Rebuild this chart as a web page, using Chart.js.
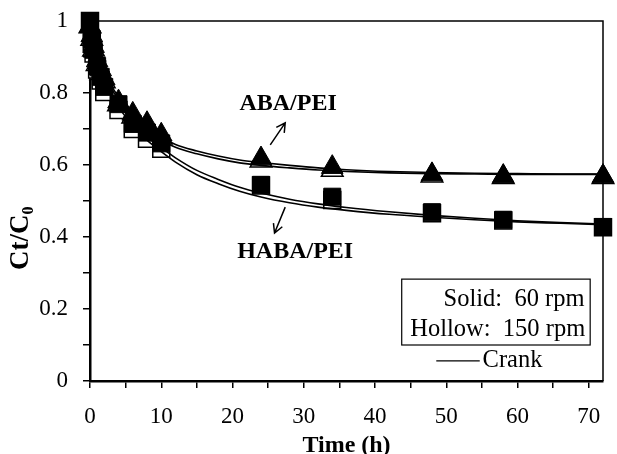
<!DOCTYPE html>
<html lang="en">
<head>
<meta charset="UTF-8" />
<title>Ct/C0 vs time</title>
<script src="https://cdn.jsdelivr.net/npm/chart.js"></script>
<style>
  html, body { margin: 0; padding: 0; background: #fff; }
  canvas { display: block; }
</style>
</head>
<body>
<canvas id="myChart" width="617" height="454"></canvas>
<script>
// sampling times (h) of the measured points
const sampleTimes = [0, 0.25, 0.5, 1, 1.5, 2, 4, 6, 8, 10, 24, 34, 48, 58, 72];

// ABA/PEI (triangles), solid = 60 rpm, hollow = 150 rpm
const abaSolid  = [0.985, 0.96, 0.93, 0.89, 0.865, 0.84, 0.776, 0.742, 0.716, 0.684, 0.618, 0.594, 0.574, 0.569, 0.569];
const abaHollow = [0.985, 0.95, 0.92, 0.88, 0.855, 0.832, 0.768, 0.734, 0.708, 0.676, 0.612, 0.586, 0.570, 0.566, 0.566];

// HABA/PEI (squares)
const habaSolid  = [1.00, 0.95, 0.92, 0.875, 0.845, 0.817, 0.769, 0.714, 0.690, 0.660, 0.545, 0.512, 0.469, 0.448, 0.428];
const habaHollow = [1.00, 0.94, 0.91, 0.865, 0.835, 0.803, 0.753, 0.700, 0.673, 0.645, 0.543, 0.503, 0.466, 0.446, 0.427];

// Crank model curves
const crankTimes = [0, 0.5, 1, 2, 3, 4, 6, 8, 10, 12, 15, 18, 21, 24, 28, 32, 36, 42, 48, 54, 60, 66, 72];
const crankAbaA  = [1.00, 0.930, 0.900, 0.855, 0.820, 0.790, 0.745, 0.710, 0.678, 0.657, 0.639, 0.625, 0.614, 0.607, 0.599, 0.592, 0.587, 0.582, 0.579, 0.577, 0.576, 0.575, 0.575];
const crankAbaB  = [1.00, 0.925, 0.894, 0.848, 0.812, 0.782, 0.737, 0.702, 0.670, 0.649, 0.631, 0.617, 0.606, 0.599, 0.592, 0.586, 0.582, 0.578, 0.576, 0.575, 0.574, 0.574, 0.574];
const crankHabaA = [1.00, 0.920, 0.890, 0.840, 0.800, 0.770, 0.720, 0.680, 0.648, 0.620, 0.585, 0.560, 0.538, 0.522, 0.505, 0.492, 0.482, 0.470, 0.460, 0.452, 0.445, 0.440, 0.436];
const crankHabaB = [1.00, 0.910, 0.880, 0.830, 0.790, 0.760, 0.710, 0.669, 0.637, 0.608, 0.573, 0.548, 0.527, 0.511, 0.495, 0.483, 0.474, 0.463, 0.455, 0.448, 0.442, 0.438, 0.434];

// axis ticks
const xTickStep = 5, xLabelEvery = 10;
const yTickStep = 0.1;

const serif = '"Liberation Serif", "Times New Roman", serif';

function zip(xs, ys) {
  return xs.map((x, i) => ({ x: x, y: ys[i] }));
}

function markers(data, style, filled) {
  return {
    data: data,
    showLine: false,
    pointStyle: style,
    pointRadius: style === 'triangle' ? 12.5 : 12,
    pointBackgroundColor: filled ? '#000' : '#fff',
    pointBorderColor: '#000',
    pointBorderWidth: filled ? 1 : 1.5,
    clip: false
  };
}

function curve(data) {
  return {
    data: data,
    showLine: true,
    borderColor: '#000',
    borderWidth: 1.6,
    pointRadius: 0,
    cubicInterpolationMode: 'monotone',
    clip: false
  };
}

// notes and legend, placed in data units
const notes = {
  aba:  { text: 'ABA/PEI',  x: 27.8, y: 0.769, from: [25.3, 0.656], to: [27.4, 0.717] },
  haba: { text: 'HABA/PEI', x: 28.8, y: 0.358, from: [27.4, 0.483], to: [25.9, 0.411] }
};

const extras = {
  id: 'extras',
  afterDraw(chart) {
    const ctx = chart.ctx;
    const a = chart.chartArea;
    const xs = chart.scales.x, ys = chart.scales.y;
    const px = v => xs.getPixelForValue(v);
    const py = v => ys.getPixelForValue(v);
    ctx.save();
    ctx.strokeStyle = '#000';
    ctx.fillStyle = '#000';

    // top and right frame
    ctx.lineWidth = 1.5;
    ctx.beginPath();
    ctx.moveTo(a.left, a.top);
    ctx.lineTo(a.right, a.top);
    ctx.lineTo(a.right, a.bottom);
    ctx.stroke();

    // labels with arrows
    ctx.font = 'bold 24px ' + serif;
    ctx.textAlign = 'center';
    ctx.textBaseline = 'middle';
    Object.values(notes).forEach(n => {
      ctx.fillText(n.text, px(n.x), py(n.y));
      const x0 = px(n.from[0]), y0 = py(n.from[1]);
      const x1 = px(n.to[0]), y1 = py(n.to[1]);
      ctx.lineWidth = 1.5;
      ctx.beginPath();
      ctx.moveTo(x0, y0);
      ctx.lineTo(x1, y1);
      const ang = Math.atan2(y1 - y0, x1 - x0);
      const h = 10;
      ctx.moveTo(x1 - h * Math.cos(ang - 0.5), y1 - h * Math.sin(ang - 0.5));
      ctx.lineTo(x1, y1);
      ctx.lineTo(x1 - h * Math.cos(ang + 0.5), y1 - h * Math.sin(ang + 0.5));
      ctx.stroke();
    });

    // legend box
    ctx.lineWidth = 1.2;
    ctx.strokeRect(px(43.75), py(0.283), px(70.2) - px(43.75), py(0.10) - py(0.283));
    ctx.font = '24.5px ' + serif;
    ctx.textAlign = 'right';
    ctx.fillText('Solid:  60 rpm', px(69.4), py(0.225));
    ctx.fillText('Hollow:  150 rpm', px(69.5), py(0.142));
    ctx.beginPath();
    ctx.moveTo(px(48.6), py(0.056));
    ctx.lineTo(px(54.7), py(0.056));
    ctx.stroke();
    ctx.textAlign = 'left';
    ctx.fillText('Crank', px(55.1), py(0.058));

    // y axis title with subscript
    ctx.translate(28, 270);
    ctx.rotate(-Math.PI / 2);
    ctx.textBaseline = 'alphabetic';
    ctx.font = 'bold 27px ' + serif;
    ctx.fillText('Ct/C', 0, 0);
    const w = ctx.measureText('Ct/C').width;
    ctx.font = 'bold 16px ' + serif;
    ctx.fillText('0', w, 5);
    ctx.restore();
  }
};

const ctx = document.getElementById('myChart').getContext('2d');
const myChart = new Chart(ctx, {
  type: 'scatter',
  data: {
    datasets: [
      markers(zip(sampleTimes, habaSolid), 'rect', true),
      markers(zip(sampleTimes, abaSolid), 'triangle', true),
      curve(zip(crankTimes, crankAbaA)),
      curve(zip(crankTimes, crankAbaB)),
      curve(zip(crankTimes, crankHabaA)),
      curve(zip(crankTimes, crankHabaB)),
      markers(zip(sampleTimes, habaHollow), 'rect', false),
      markers(zip(sampleTimes, abaHollow), 'triangle', false)
    ]
  },
  options: {
    responsive: false,
    animation: false,
    devicePixelRatio: 1,
    layout: { padding: { top: 21, right: 7, left: 0, bottom: 0 } },
    plugins: {
      legend: { display: false },
      tooltip: { enabled: false }
    },
    scales: {
      x: {
        type: 'linear',
        min: 0,
        max: 72,
        border: { color: '#000', width: 2.5 },
        grid: { drawOnChartArea: false, color: '#000', lineWidth: 1.5, tickLength: 7 },
        ticks: {
          stepSize: xTickStep,
          includeBounds: false,
          autoSkip: false,
          maxRotation: 0,
          padding: 15,
          color: '#000',
          font: { family: serif, size: 23 },
          callback: v => (v % xLabelEvery === 0 ? String(v) : '')
        },
        title: {
          display: true,
          text: 'Time (h)',
          color: '#000',
          font: { family: serif, size: 24, weight: 'bold', lineHeight: 0.7 },
          padding: 0
        },
        afterFit: s => {
          s.height = 73;
          s.paddingLeft = 0;
          s.paddingRight = 0;
        }
      },
      y: {
        type: 'linear',
        min: 0,
        max: 1,
        border: { color: '#000', width: 2.5 },
        grid: { drawOnChartArea: false, color: '#000', lineWidth: 1.5, tickLength: 7 },
        ticks: {
          stepSize: yTickStep,
          autoSkip: false,
          padding: 15,
          color: '#000',
          font: { family: serif, size: 23 },
          callback: v => {
            const k = Math.round(v * 10);
            return k % 2 === 0 ? String(k / 10) : '';
          }
        },
        afterFit: s => {
          s.width = 90;
          s.paddingTop = 0;
          s.paddingBottom = 0;
        }
      }
    }
  },
  plugins: [extras]
});
</script>
</body>
</html>
